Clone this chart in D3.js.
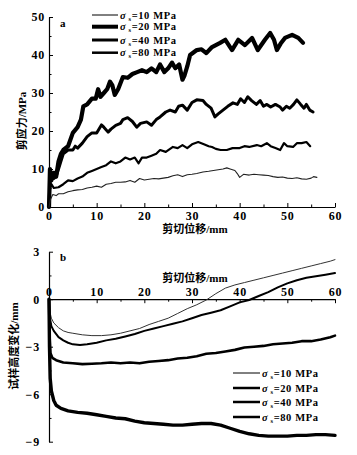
<!DOCTYPE html>
<html><head><meta charset="utf-8">
<script src="https://cdn.jsdelivr.net/npm/d3@7"></script>
<style>
html,body{margin:0;padding:0;background:#fff;}
svg{display:block;}
.tk text{font-family:"Liberation Serif","Times New Roman",serif;font-weight:bold;font-size:12px;letter-spacing:0.8px;fill:#000;}
.cjk{font-family:"Liberation Serif","Noto Sans CJK SC",serif;font-weight:bold;font-size:11px;fill:#000;}
.lg{font-family:"Liberation Serif","Times New Roman",serif;font-weight:bold;font-size:10.5px;letter-spacing:0.6px;fill:#000;}
</style></head><body>
<script>
// ---------- data ----------
const xTicks = [0,10,20,30,40,50,60];
const shearTicks = [0,10,20,30,40,50];
const heightTicks = [3,0,-3,-6,-9];
const legendLabels = ["10","20","40","80"];

// panel a: shear stress (MPa) vs shear displacement (mm)
const shear80 = [[0,0],[0.2,10],[0.5,7],[1,9],[1.5,8],[2,12],[2.5,14],[3,15],[4,16],[5,19.5],[6,21],[6.7,23],[7.2,26.5],[8,27],[9,28.5],[9.8,28.5],[10.3,31],[10.8,29],[11.5,30],[12.2,31],[12.8,33],[13.3,32],[13.8,29.5],[14.5,31],[15.5,34.2],[16.5,34],[17.5,35],[18.5,35.5],[19.5,36],[20.5,35.5],[21.5,36.5],[22.5,35.5],[23.3,37.5],[24.2,35.5],[25,36.5],[25.8,38],[26.5,36.5],[27.3,37.5],[28,33.5],[28.4,34.5],[29,37],[29.6,40],[31,41.3],[32,41.5],[33,40.5],[34.2,42.1],[35.9,43.2],[37,44],[38.4,41.3],[39.7,44],[41.1,42.6],[42.6,44.5],[43.8,41.3],[45.3,44],[46.4,45.8],[47.2,44],[47.8,41.3],[48.6,43],[49.5,44.5],[51,45.3],[52.3,44.5],[53.3,43.2]];
const shear40 = [[0,0],[0.2,7],[0.6,8],[1,7.5],[1.5,8],[2,10],[2.5,12],[3,14],[4,15],[5,15],[5.5,16],[6,15.5],[7,16.8],[8,18.5],[9,19.5],[10,19.5],[11,21.6],[11.5,21],[12.4,19.7],[13,20.5],[14,21.5],[15,22],[15.5,23],[16.5,23.5],[17.5,22.5],[18.4,21],[19.2,22],[20.5,22.4],[21.5,21.5],[22.5,23],[23.3,23.7],[24.5,25],[25.4,25.5],[26.5,25],[27.2,26.5],[28,26.8],[29,25.5],[30,27.5],[31,28.2],[32.3,28],[33,27],[34,26],[34.8,23.7],[35.5,24.5],[36.5,25.5],[37.5,26.5],[38.6,27.4],[39.5,27],[40.2,28.5],[41,27.5],[41.7,29],[42.5,28],[43.5,27],[44.3,28],[45,26.5],[45.7,27],[46.5,26.3],[47.5,27],[48.5,26.3],[49,25.5],[49.8,26.5],[50.5,26],[51.3,27],[52,28.2],[52.8,27],[53.5,26],[54,27],[54.7,25.5],[55.4,25]];
const shear20 = [[0,0],[0.2,5],[0.5,6],[1,5],[2,5.2],[3,6],[4,7],[5,6.8],[6,7.5],[7,8],[8,9],[9,9.5],[10,10],[11,10.5],[12,11],[13,12],[14,11.5],[15,12],[16,13],[17,12.5],[18,13],[18.8,11.5],[19.5,13],[20.5,13],[21.5,13.5],[22.5,14],[23.3,15],[24.5,14.5],[26,15.8],[27,15.5],[28,16.3],[29,15.5],[30,16.5],[31.3,17.1],[32.5,16.5],[33.5,16],[34.2,15.8],[35,15.3],[36,15],[37.3,15],[38.5,15.5],[40,15.5],[41,16],[42,15.8],[43.6,16.3],[44.5,16],[45.7,16.8],[46.5,16],[47.5,15.5],[48.5,15],[49.3,16.8],[50,16],[51.2,15.8],[52,16.8],[53,16.8],[54,17.1],[54.8,16]];
const shear10 = [[0,0],[0.3,2],[0.8,3.3],[1.5,3],[2,3.5],[3,3.5],[4,4],[5,4.3],[6,4.5],[7,4.6],[8,5],[9,5.2],[10,5.5],[11,5.2],[12,6],[13,6.2],[14,6.5],[15,6.5],[16,6.6],[17,7],[18,6.5],[19,7.5],[20,7.1],[21,7.3],[22,7.5],[23,7.4],[24,7.6],[25,7.8],[26,8.2],[27,8.5],[28,8],[29,8.5],[30,8.6],[31,8.8],[32.3,9.2],[33.5,9.4],[34.5,9.6],[35.5,9.8],[36.5,10],[37.3,10.3],[38,10],[39,9.6],[39.5,8.8],[40,7.8],[40.8,8.6],[42,8.4],[43,8.6],[44,8.5],[45,8.4],[46,8.3],[47,8],[48,7.8],[49,7.9],[50,7.6],[51,7.5],[52,7.7],[53,7.4],[54,7.3],[55,7.6],[55.5,8],[56.2,7.8]];

// panel b: specimen height change (mm) vs shear displacement (mm)
const height10 = [[0,0],[0.2,-0.8],[0.5,-1.2],[1,-1.5],[2,-1.8],[3,-2.0],[4,-2.1],[5,-2.15],[7,-2.25],[9,-2.3],[11,-2.3],[13,-2.25],[15,-2.15],[17,-2.0],[19,-1.85],[21,-1.6],[23,-1.4],[25,-1.2],[27,-0.9],[29,-0.6],[31,-0.35],[33,-0.05],[35,0.35],[37,0.7],[39,0.9],[41,1.05],[43,1.2],[45,1.35],[47,1.5],[49,1.65],[51,1.8],[53,1.95],[55,2.1],[57,2.25],[59,2.4],[60,2.5]];
const height20 = [[0,0],[0.2,-1.2],[0.5,-1.7],[1,-2.0],[2,-2.4],[3,-2.6],[4,-2.75],[5,-2.85],[6.5,-2.9],[8,-2.85],[10,-2.75],[12,-2.6],[14,-2.5],[16,-2.35],[18,-2.2],[20,-2.0],[22,-1.85],[24,-1.7],[26,-1.55],[28,-1.4],[30,-1.2],[32,-1.0],[34,-0.85],[36,-0.7],[38,-0.45],[40,-0.2],[42,-0.05],[44,0.2],[46,0.45],[48,0.75],[50,1.0],[52,1.2],[54,1.35],[56,1.45],[58,1.55],[60,1.65]];
const height40 = [[0,0],[0.15,-2.5],[0.3,-3.4],[0.7,-3.7],[1.5,-3.85],[3,-4.0],[5,-4.05],[7,-4.1],[9,-4.08],[11,-4.05],[13,-4.0],[15,-4.05],[17,-4.0],[19,-4.05],[21,-3.95],[23,-3.9],[25,-3.85],[27,-3.75],[29,-3.7],[31,-3.6],[33,-3.45],[35,-3.4],[37,-3.3],[39,-3.2],[41,-3.05],[43,-3.0],[45,-2.95],[47,-2.85],[49,-2.8],[51,-2.75],[53,-2.65],[55,-2.65],[57,-2.55],[59,-2.4],[60,-2.3]];
const height80 = [[0,0],[0.1,-3],[0.25,-5],[0.5,-5.8],[1,-6.4],[1.5,-6.7],[2.5,-6.9],[4,-7.05],[6,-7.15],[8,-7.2],[10,-7.3],[12,-7.4],[14,-7.5],[16,-7.55],[18,-7.7],[20,-7.8],[22,-7.85],[24,-7.9],[26,-7.95],[28,-7.95],[30,-7.9],[32,-7.85],[34,-7.85],[36,-7.95],[38,-8.15],[40,-8.35],[42,-8.5],[44,-8.6],[46,-8.65],[48,-8.65],[50,-8.65],[52,-8.6],[54,-8.6],[56,-8.55],[58,-8.55],[60,-8.6]];

// ---------- drawing ----------
const W = 357, H = 455;
const svg = d3.select("body").append("svg").attr("width", W).attr("height", H);

const x = d3.scaleLinear().domain([0,60]).range([49,335]);
const yA = d3.scaleLinear().domain([0,50]).range([207,17]);
const yB = d3.scaleLinear().domain([-9,3]).range([441.7,251.7]);

function drawAxis(gen, tx, ty){
  const g = svg.append("g").attr("class","tk").attr("transform",`translate(${tx},${ty})`).call(gen);
  g.select(".domain").attr("stroke","#000").attr("stroke-width",1.2);
  g.selectAll(".tick line").attr("stroke","#000").attr("stroke-width",1);
  return g;
}
// panel a axes
const minorX = d3.range(5,60,10);
drawAxis(d3.axisBottom(x).tickValues(minorX).tickSize(-2.5).tickFormat(""),0,207).select(".domain").remove();
drawAxis(d3.axisBottom(x).tickValues(xTicks).tickSizeInner(-4).tickSizeOuter(0).tickPadding(4).tickFormat(d3.format("d")),0,207);
drawAxis(d3.axisLeft(yA).tickValues(d3.range(5,50,10)).tickSize(-2.5).tickFormat(""),49,0).select(".domain").remove();
drawAxis(d3.axisLeft(yA).tickValues(shearTicks).tickSizeInner(-4).tickSizeOuter(0).tickPadding(4),49,0);

// panel b axes
drawAxis(d3.axisTop(x).tickValues(minorX).tickSize(-2.5).tickFormat(""),0,yB(0)).select(".domain").remove();
drawAxis(d3.axisTop(x).tickValues(xTicks).tickSizeInner(-4).tickSizeOuter(0).tickPadding(3),0,yB(0));
drawAxis(d3.axisLeft(yB).tickValues([1.5,-1.5,-4.5,-7.5]).tickSize(-2.5).tickFormat(""),49,0).select(".domain").remove();
drawAxis(d3.axisLeft(yB).tickValues(heightTicks).tickSizeInner(-4).tickSizeOuter(0).tickPadding(9).tickFormat(d=>d<0?"\u2212"+Math.abs(d):d),49,0);

// curves
const lineA = d3.line().x(d=>x(d[0])).y(d=>yA(d[1]));
const lineB = d3.line().x(d=>x(d[0])).y(d=>yB(d[1]));
const seriesA = [[shear80,4.2,"#000"],[shear40,3,"#000"],[shear20,2.2,"#000"],[shear10,1.1,"#222"]];
const seriesB = [[height10,1,"#333"],[height20,2,"#000"],[height40,2.6,"#000"],[height80,3.4,"#000"]];
seriesA.forEach(s=>svg.append("path").attr("d",lineA(s[0])).attr("fill","none").attr("stroke",s[2]).attr("stroke-width",s[1]).attr("stroke-linejoin","round").attr("stroke-linecap","round"));
seriesB.forEach(s=>svg.append("path").attr("d",lineB(s[0])).attr("fill","none").attr("stroke",s[2]).attr("stroke-width",s[1]).attr("stroke-linejoin","round").attr("stroke-linecap","round"));

// titles
svg.append("text").attr("class","cjk").attr("x",195).attr("y",233).attr("text-anchor","middle").text("剪切位移/mm");
svg.append("text").attr("class","cjk").attr("x",195).attr("y",282).attr("text-anchor","middle").text("剪切位移/mm");
svg.append("text").attr("class","cjk").attr("transform","translate(26,121) rotate(-90)").attr("text-anchor","middle").text("剪应力/MPa");
svg.append("text").attr("class","cjk").attr("transform","translate(18,346) rotate(-90)").attr("text-anchor","middle").text("试样高度变化/mm");
svg.append("text").attr("class","lg").attr("x",60).attr("y",27).style("font-size","11px").text("a");
svg.append("text").attr("class","lg").attr("x",60).attr("y",261).style("font-size","11px").text("b");

// legends
function legend(x0, x1, ys, widths){
  legendLabels.forEach((lab,i)=>{
    svg.append("line").attr("x1",x0).attr("x2",x1).attr("y1",ys[i]).attr("y2",ys[i]).attr("stroke","#000").attr("stroke-width",widths[i]);
    const t = svg.append("text").attr("class","lg").attr("x",x1+2).attr("y",ys[i]+3.5);
    t.append("tspan").style("font-style","italic").text("\u03c3");
    t.append("tspan").attr("dy",2).style("font-size","6.5px").text(" s");
    t.append("tspan").attr("dy",-2).text("=" + lab + " MPa");
  });
}
legend(92,118,[15,26.7,40,52.7],[1,4,3,2.5]);
legend(233,260,[373,388,402,417],[1,2.5,2.5,2.5]);
</script>
</body></html>
